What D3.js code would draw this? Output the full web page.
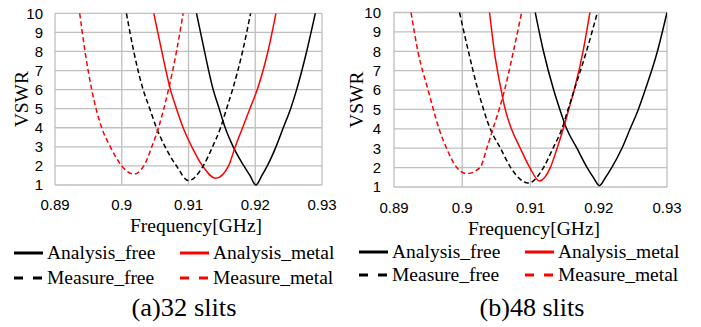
<!DOCTYPE html>
<html>
<head>
<meta charset="utf-8">
<script src="https://cdn.jsdelivr.net/npm/d3@7"></script>
<style>
  body { margin: 0; background: #fff; }
  svg { display: block; }
  .tick-label { font-family: "Liberation Sans", Arial, sans-serif; font-size: 15px; fill: #000; }
  .serif { font-family: "Liberation Serif", "Times New Roman", serif; fill: #000; }
</style>
</head>
<body>
<div class="chart"></div>
<script>
const FRAME_WIDTH = 701;
const FRAME_HEIGHT = 327;

const X_TICKS = [0.89, 0.90, 0.91, 0.92, 0.93];
const X_TICK_LABELS = ["0.89", "0.9", "0.91", "0.92", "0.93"];
const Y_TICKS = [1, 2, 3, 4, 5, 6, 7, 8, 9, 10];
const SERIES_NAMES = ["Analysis_free", "Analysis_metal", "Measure_free", "Measure_metal"];
const CAPTIONS = ["(a)32 slits", "(b)48 slits"];

// (a) 32 slits
const ANALYSIS_FREE_32_F = [0.9112, 0.9124, 0.9137, 0.9146, 0.9155, 0.9167, 0.9183, 0.9192, 0.9201, 0.9210, 0.9218, 0.9231, 0.9242, 0.9253, 0.9262, 0.9277, 0.9290];
const ANALYSIS_FREE_32_V = [10, 8, 6, 5, 4, 3, 2, 1.5, 1.0, 1.5, 2, 3, 4, 5, 6, 8, 10];
const ANALYSIS_METAL_32_F = [0.9048, 0.9060, 0.9073, 0.9082, 0.9092, 0.9105, 0.9121, 0.9141, 0.9160, 0.9170, 0.9181, 0.9192, 0.9203, 0.9219, 0.9231];
const ANALYSIS_METAL_32_V = [10, 8, 6, 5, 4, 3, 2, 1.35, 2, 3, 4, 5, 6, 8, 10];
const MEASURE_FREE_32_F = [0.9007, 0.9018, 0.9032, 0.9042, 0.9052, 0.9065, 0.9082, 0.9100, 0.9122, 0.9136, 0.9148, 0.9157, 0.9166, 0.9181, 0.9193];
const MEASURE_FREE_32_V = [10, 8, 6, 5, 4, 3, 2, 1.23, 2, 3, 4, 5, 6, 8, 10];
const MEASURE_METAL_32_F = [0.8937, 0.8945, 0.8955, 0.8970, 0.8983, 0.9000, 0.9018, 0.9033, 0.9045, 0.9055, 0.9063, 0.9070, 0.9082, 0.9092];
const MEASURE_METAL_32_V = [10, 8, 6, 4, 3, 2, 1.57, 2, 3, 4, 5, 6, 8, 10];

// (b) 48 slits
const ANALYSIS_FREE_48_F = [0.9107, 0.9119, 0.9134, 0.9143, 0.9153, 0.9168, 0.9183, 0.9192, 0.9201, 0.9210, 0.9219, 0.9234, 0.9246, 0.9258, 0.9268, 0.9286, 0.9300];
const ANALYSIS_FREE_48_V = [10, 8, 6, 5, 4, 3, 2, 1.5, 1.07, 1.5, 2, 3, 4, 5, 6, 8, 10];
const ANALYSIS_METAL_48_F = [0.9040, 0.9047, 0.9057, 0.9063, 0.9072, 0.9085, 0.9099, 0.9113, 0.9129, 0.9139, 0.9148, 0.9156, 0.9164, 0.9177, 0.9187];
const ANALYSIS_METAL_48_V = [10, 8, 6, 5, 4, 3, 2, 1.31, 2, 3, 4, 5, 6, 8, 10];
const MEASURE_FREE_48_F = [0.8996, 0.9009, 0.9023, 0.9041, 0.9056, 0.9071, 0.9097, 0.9119, 0.9133, 0.9146, 0.9155, 0.9164, 0.9182, 0.9198];
const MEASURE_FREE_48_V = [10, 8, 6, 4, 3, 2, 1.2, 2, 3, 4, 5, 6, 8, 10];
const MEASURE_METAL_48_F = [0.8925, 0.8935, 0.8950, 0.8966, 0.8977, 0.8992, 0.9007, 0.9026, 0.9036, 0.9045, 0.9054, 0.9062, 0.9075, 0.9087];
const MEASURE_METAL_48_V = [10, 8, 6, 4, 3, 2, 1.69, 2, 3, 4, 5, 6, 8, 10];

const SERIES_STYLE = [
  {color: "#000", dash: null},
  {color: "#ff0000", dash: null},
  {color: "#000", dash: "5,3"},
  {color: "#ff0000", dash: "5,3"}
];

const PANELS = [
  {
    x0: 55, x1: 322, y0: 185, y1: 13.3,
    yLabelX: 21, yTickX: 43, xTickY: 205, freqX: 196, freqY: 225,
    legRows: [253, 278], legCols: [14, 180],
    capX: 184,
    series: [[ANALYSIS_FREE_32_F, ANALYSIS_FREE_32_V], [ANALYSIS_METAL_32_F, ANALYSIS_METAL_32_V],
             [MEASURE_FREE_32_F, MEASURE_FREE_32_V], [MEASURE_METAL_32_F, MEASURE_METAL_32_V]]
  },
  {
    x0: 394, x1: 667, y0: 187, y1: 12.5,
    yLabelX: 356, yTickX: 381, xTickY: 208, freqX: 534, freqY: 228,
    legRows: [252, 275], legCols: [359, 525],
    capX: 532,
    series: [[ANALYSIS_FREE_48_F, ANALYSIS_FREE_48_V], [ANALYSIS_METAL_48_F, ANALYSIS_METAL_48_V],
             [MEASURE_FREE_48_F, MEASURE_FREE_48_V], [MEASURE_METAL_48_F, MEASURE_METAL_48_V]]
  }
];

const SVG = d3.select(".chart")
  .append("svg")
  .attr("width", FRAME_WIDTH)
  .attr("height", FRAME_HEIGHT);

PANELS.forEach((p, i) => {
  const X_SCALE = d3.scaleLinear().domain([0.89, 0.93]).range([p.x0, p.x1]);
  const Y_SCALE = d3.scaleLinear().domain([1, 10]).range([p.y0, p.y1]);

  const g = SVG.append("g");

  // grid
  g.selectAll(".hgrid").data(Y_TICKS).enter().append("line")
    .attr("x1", p.x0).attr("x2", p.x1)
    .attr("y1", d => Y_SCALE(d)).attr("y2", d => Y_SCALE(d))
    .attr("stroke", "#bfbfbf").attr("stroke-width", 1.3);
  g.selectAll(".vgrid").data(X_TICKS).enter().append("line")
    .attr("x1", d => X_SCALE(d)).attr("x2", d => X_SCALE(d))
    .attr("y1", p.y0).attr("y2", p.y1)
    .attr("stroke", "#bfbfbf").attr("stroke-width", 1.3);

  // tick labels
  g.selectAll(".ytick").data(Y_TICKS).enter().append("text")
    .attr("class", "tick-label")
    .attr("x", p.yTickX).attr("y", d => Y_SCALE(d)).attr("dy", "0.36em")
    .attr("text-anchor", "end")
    .text(d => d);
  g.selectAll(".xtick").data(X_TICKS).enter().append("text")
    .attr("class", "tick-label")
    .attr("x", d => X_SCALE(d)).attr("y", p.xTickY).attr("dy", "0.36em")
    .attr("text-anchor", "middle")
    .text((d, j) => X_TICK_LABELS[j]);

  // axis titles
  g.append("text").attr("class", "serif")
    .attr("transform", "translate(" + p.yLabelX + "," + ((p.y0 + p.y1) / 2) + ") rotate(-90)")
    .attr("text-anchor", "middle").attr("dy", "0.35em")
    .style("font-size", "19.5px")
    .text("VSWR");
  g.append("text").attr("class", "serif")
    .attr("x", p.freqX).attr("y", p.freqY).attr("dy", "0.35em")
    .attr("text-anchor", "middle")
    .style("font-size", "19.5px")
    .text("Frequency[GHz]");

  // curves
  const clipId = "clip" + i;
  g.append("clipPath").attr("id", clipId).append("rect")
    .attr("x", p.x0).attr("y", p.y1 - 1)
    .attr("width", p.x1 - p.x0).attr("height", p.y0 - p.y1 + 2);

  const line = d3.line()
    .x(d => X_SCALE(d[0]))
    .y(d => Y_SCALE(d[1]))
    .curve(d3.curveMonotoneX);

  p.series.forEach((s, k) => {
    const pts = s[0].map((f, j) => [f, s[1][j]]);
    g.append("path")
      .datum(pts)
      .attr("clip-path", "url(#" + clipId + ")")
      .attr("fill", "none")
      .attr("stroke", SERIES_STYLE[k].color)
      .attr("stroke-width", 1.5)
      .attr("stroke-dasharray", SERIES_STYLE[k].dash)
      .attr("d", line);
  });

  // legend
  SERIES_NAMES.forEach((name, k) => {
    const lx = p.legCols[k % 2];
    const ly = p.legRows[Math.floor(k / 2)];
    g.append("line")
      .attr("x1", lx).attr("x2", lx + 29)
      .attr("y1", ly).attr("y2", ly)
      .attr("stroke", SERIES_STYLE[k].color)
      .attr("stroke-width", 3)
      .attr("stroke-dasharray", SERIES_STYLE[k].dash ? "9,10" : null);
    g.append("text").attr("class", "serif")
      .attr("x", lx + 33).attr("y", ly).attr("dy", "0.33em")
      .style("font-size", "19.5px")
      .text(name);
  });

  // caption
  g.append("text").attr("class", "serif")
    .attr("x", p.capX).attr("y", 316)
    .attr("text-anchor", "middle")
    .attr("textLength", 105).attr("lengthAdjust", "spacingAndGlyphs")
    .style("font-size", "25px")
    .text(CAPTIONS[i]);
});
</script>
</body>
</html>
